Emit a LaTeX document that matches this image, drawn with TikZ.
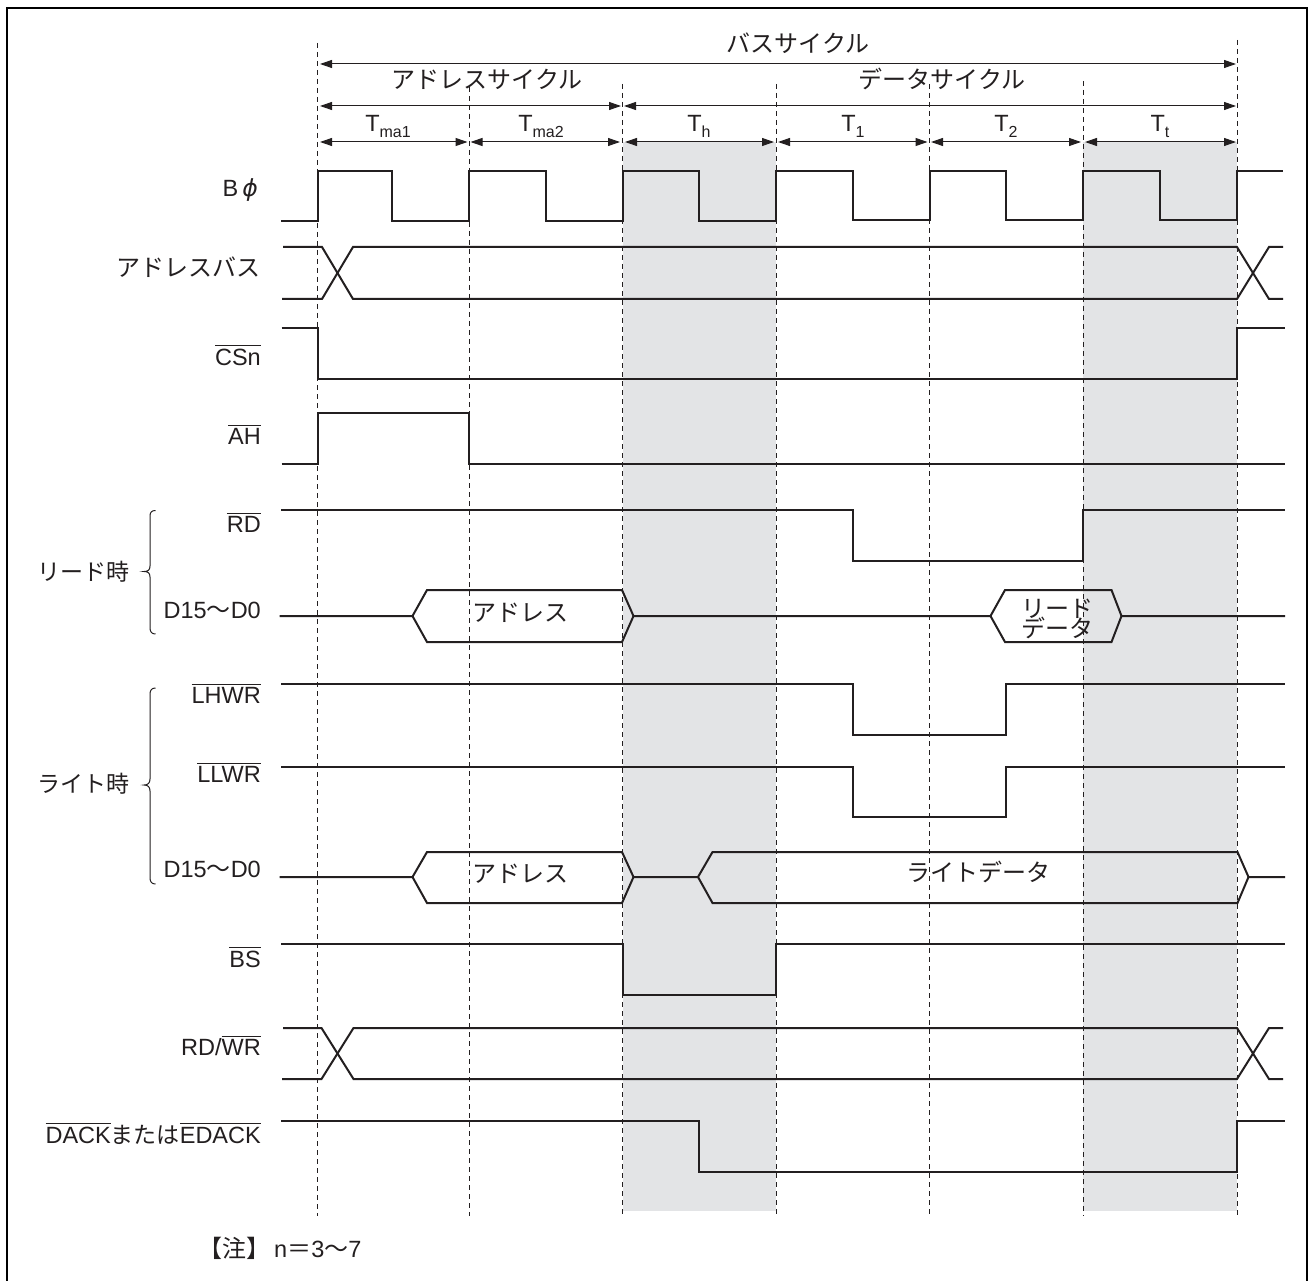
\documentclass[tikz,border=0pt]{standalone}
\usepackage{fontspec}
\usetikzlibrary{arrows.meta}
\setmainfont{Liberation Sans}
\newfontfamily\cjk{Noto Sans CJK JP}
\newfontfamily\grk{DejaVu Sans}
\definecolor{ink}{HTML}{231F20}
\definecolor{bandgray}{HTML}{E3E4E6}
\newcommand{\ovl}[1]{\leavevmode\vbox{\hrule height 1pt\kern 2.2pt\hbox{#1}}}
\newcommand{\jp}[1]{{\cjk\fontsize{24}{24}\selectfont #1}}
\newcommand{\jps}[1]{{\cjk\fontsize{23}{23}\selectfont #1}}
\newcommand{\tsub}[1]{T\raisebox{-5.5pt}{\fontsize{16}{16}\selectfont #1}}
\tikzset{
  frameline/.style={draw=black,line width=2.4pt},
  signal/.style={draw=ink,line width=2pt,line join=miter,line cap=butt},
  grid/.style={draw=ink,line width=1pt,dash pattern=on 5pt off 4pt},
  dimline/.style={draw=ink,line width=1pt,{Triangle[length=12pt,width=8pt]}-{Triangle[length=12pt,width=8pt]}},
  bracket/.style={draw=ink,line width=1pt},
  lab/.style={anchor=base east,inner sep=0pt,text=ink,font=\fontsize{23.5}{23.5}\selectfont},
  cen/.style={anchor=base,inner sep=0pt,text=ink,font=\fontsize{23.5}{23.5}\selectfont},
}
\begin{document}
\begin{tikzpicture}[x=1pt,y=-1pt]
\useasboundingbox (0,0) rectangle (1309,1281);
\fill[white] (0,0) rectangle (1309,1281);
% shaded bands
\fill[bandgray] (622.5,142) rectangle (776,1211);
\fill[bandgray] (1083,142) rectangle (1237,1211);
% frame (open at the bottom)
\draw[frameline] (7,1281) -- (7,8) -- (1306.7,8) -- (1306.7,1281);
% vertical guides
\draw[grid] (317.5,43) -- (317.5,1216);
\draw[grid] (469,87) -- (469,1216);
\draw[grid] (622.5,84) -- (622.5,1216);
\draw[grid] (776,84) -- (776,1216);
\draw[grid] (929.5,84) -- (929.5,1216);
\draw[grid] (1083,81) -- (1083,1216);
\draw[grid] (1237,40) -- (1237,1216);
% dimension arrows
\draw[dimline] (320,64) -- (1236,64);
\draw[dimline] (320,106) -- (621,106);
\draw[dimline] (624,106) -- (1236,106);
\draw[dimline] (320,142) -- (467.5,142);
\draw[dimline] (470.5,142) -- (620,142);
\draw[dimline] (625,142) -- (774,142);
\draw[dimline] (778,142) -- (927.5,142);
\draw[dimline] (931,142) -- (1081,142);
\draw[dimline] (1085,142) -- (1236,142);
% header labels
\node[cen] (hbus) at (798,53) {\jp{バスサイクル}};
\node[cen] (hadr) at (487,89) {\jp{アドレスサイクル}};
\node[cen] (hdat) at (942,89) {\jp{データサイクル}};
\node[cen] (tma1) at (388,132) {\tsub{ma1}};
\node[cen] (tma2) at (541,132) {\tsub{ma2}};
\node[cen] (th) at (699,132) {\tsub{h}};
\node[cen] (t1) at (853,132) {\tsub{1}};
\node[cen] (t2) at (1006,132) {\tsub{2}};
\node[cen] (tt) at (1160,132) {\tsub{t}};
% B phi clock
\draw[signal] (281,221) -- (317.5,221) -- (317.5,171) -- (392,171) -- (392,221) -- (469,221) -- (469,171) -- (546,171) -- (546,221) -- (622.5,221) -- (622.5,171) -- (699,171) -- (699,221) -- (776,221) -- (776,171) -- (853,171) -- (853,220) -- (929.5,220) -- (929.5,171) -- (1006,171) -- (1006,220) -- (1083,220) -- (1083,171) -- (1160,171) -- (1160,220) -- (1237,220) -- (1237,171) -- (1283,171);
% address bus
\draw[signal] (283,247) -- (322,247) -- (353,299) -- (1237,299) -- (1269,247) -- (1283,247);
\draw[signal] (282,299) -- (322,299) -- (353,247) -- (1237,247) -- (1269,299) -- (1283,299);
% CSn
\draw[signal] (281.5,328) -- (318,328) -- (318,379) -- (1237,379) -- (1237,328) -- (1285,328);
% AH
\draw[signal] (281.5,464) -- (318,464) -- (318,413) -- (469,413) -- (469,464) -- (1285,464);
% RD
\draw[signal] (281,510) -- (853,510) -- (853,561) -- (1083,561) -- (1083,510) -- (1285,510);
% D15-D0 read
\draw[signal] (279.5,616) -- (412.5,616) -- (427,590) -- (622,590) -- (633.5,616) -- (990.5,616) -- (1005,590) -- (1111.5,590) -- (1121.5,616) -- (1285,616);
\draw[signal] (412.5,616) -- (427,642) -- (622,642) -- (633.5,616);
\draw[signal] (990.5,616) -- (1005,642) -- (1111.5,642) -- (1121.5,616);
% LHWR
\draw[signal] (281,684) -- (853,684) -- (853,735) -- (1006,735) -- (1006,684) -- (1285,684);
% LLWR
\draw[signal] (281,767) -- (853,767) -- (853,817) -- (1006,817) -- (1006,767) -- (1285,767);
% D15-D0 write
\draw[signal] (279.5,877) -- (412.5,877) -- (427,852) -- (622,852) -- (633.5,877) -- (698,877) -- (712.5,852) -- (1237.5,852) -- (1248.5,877) -- (1285,877);
\draw[signal] (412.5,877) -- (427,903) -- (622,903) -- (633.5,877);
\draw[signal] (698,877) -- (712.5,903) -- (1237.5,903) -- (1248.5,877);
% BS
\draw[signal] (281,944) -- (622.5,944) -- (622.5,995) -- (776,995) -- (776,944) -- (1285,944);
% RD/WR
\draw[signal] (283,1028) -- (321.5,1028) -- (353.5,1079) -- (1237,1079) -- (1269,1028) -- (1283,1028);
\draw[signal] (282,1079) -- (321.5,1079) -- (353.5,1028) -- (1237,1028) -- (1269,1079) -- (1283,1079);
% DACK
\draw[signal] (281,1121) -- (699,1121) -- (699,1172) -- (1237,1172) -- (1237,1121) -- (1285,1121);
% braces
\draw[bracket] (155.5,510.5) .. controls (152,510.5) and (150,512) .. (150,516) -- (150,566) .. controls (150,570) and (148,571.5) .. (144,571.5) .. controls (148,571.5) and (150,573) .. (150,577) -- (150,628) .. controls (150,632) and (152,634) .. (155.5,634);
\draw[bracket] (155.5,688) .. controls (152,688) and (150,690) .. (150,694) -- (150,779) .. controls (150,783) and (148,785) .. (144,785) .. controls (148,785) and (150,787) .. (150,791) -- (150,878) .. controls (150,882) and (152,884) .. (155.5,884);
% signal names
\node[lab] (lphi) at (258,197) {B\,{\grk\itshape ϕ}};
\node[lab] (lbus) at (261,277) {\jp{アドレスバス}};
\node[lab] (lcs) at (261,365) {\ovl{CSn}};
\node[lab] (lah) at (261,444) {\ovl{AH}};
\node[lab] (lrd) at (261,532) {\ovl{RD}};
\node[lab] (ld1) at (261,618) {D15\jp{〜}D0};
\node[lab] (llh) at (261,703) {\ovl{LHWR}};
\node[lab] (lll) at (261,782) {\ovl{LLWR}};
\node[lab] (ld2) at (261,877) {D15\jp{〜}D0};
\node[lab] (lbs) at (261,967) {\ovl{BS}};
\node[lab] (lrw) at (261,1055) {RD/\ovl{WR}};
\node[lab] (lda) at (261,1143) {\ovl{DACK}\jps{または}\ovl{EDACK}};
\node[anchor=base west,inner sep=0pt,text=ink] (lread) at (37,580) {\jps{リード時}};
\node[anchor=base west,inner sep=0pt,text=ink] (lwrite) at (37,792) {\jps{ライト時}};
% bus contents
\node[cen] (a1) at (520,621) {\jp{アドレス}};
\node[cen] (a2) at (520,882) {\jp{アドレス}};
\node[cen] (rd1) at (1057,617) {\jp{リード}};
\node[cen] (rd2) at (1057,637) {\jp{データ}};
\node[cen] (wd) at (978,881) {\jp{ライトデータ}};
% note
\node[anchor=base west,inner sep=0pt,text=ink,font=\fontsize{23.5}{23.5}\selectfont] (note) at (198,1257) {\jp{【注】}\hspace{4pt}n\jp{＝}3\jp{〜}7};
\end{tikzpicture}
\end{document}
